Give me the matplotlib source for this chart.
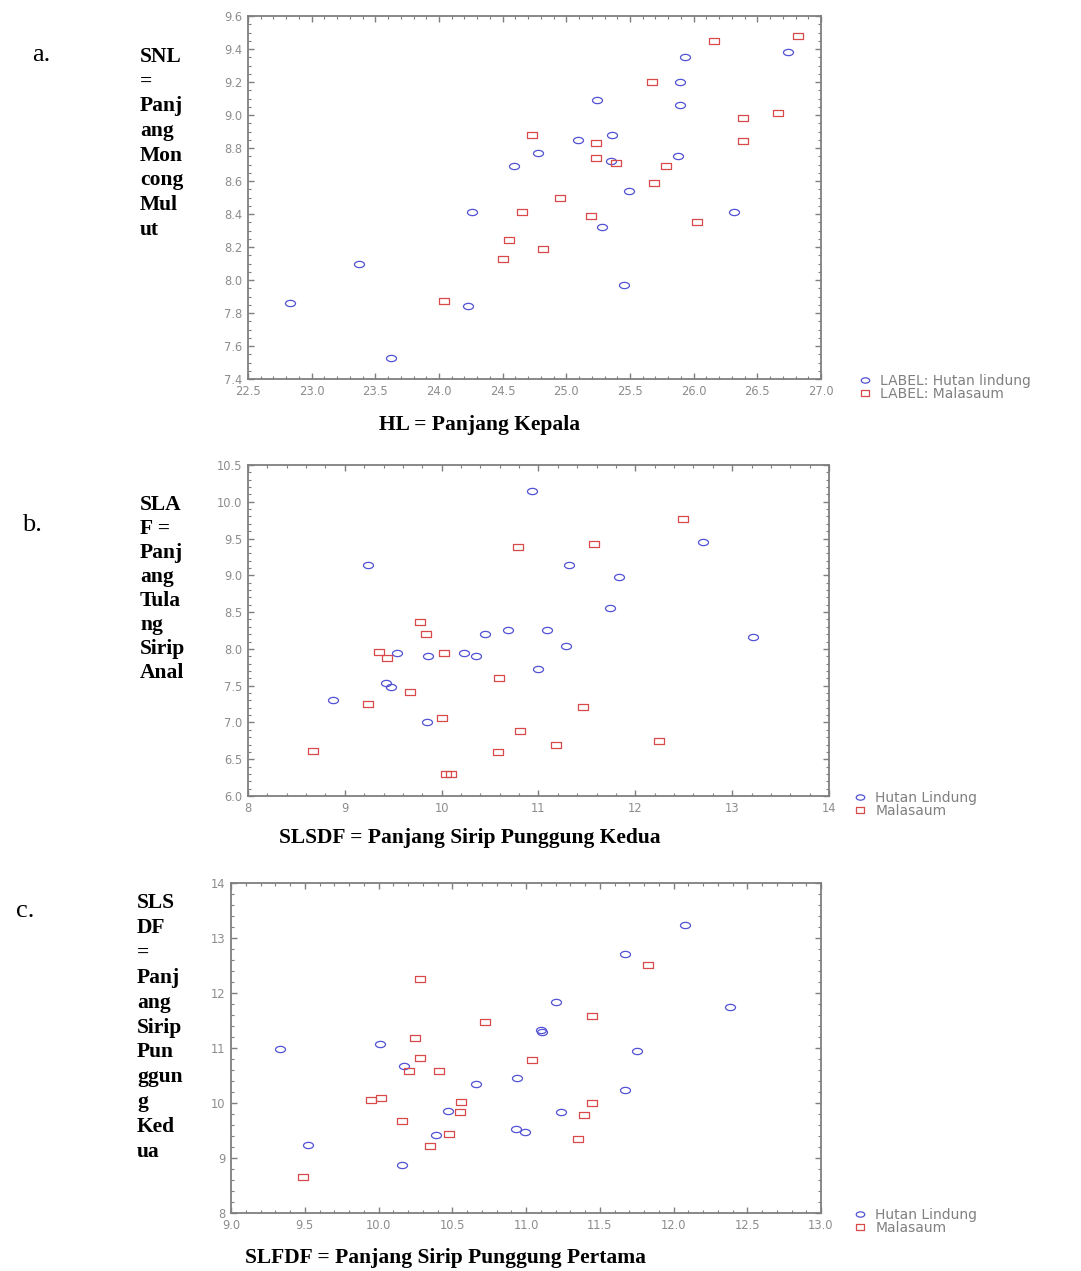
import numpy as np
import matplotlib
matplotlib.use("Agg")
import matplotlib.pyplot as plt
from matplotlib.path import Path
from matplotlib.markers import MarkerStyle
from matplotlib.ticker import MultipleLocator, AutoMinorLocator, FormatStrFormatter

W, H = 1081, 1271

# ---------------- data ----------------
# Panel a: HL (x) vs SNL (y)
a_hl_hutan = [22.83, 23.37, 23.62, 24.23, 24.26, 24.59, 24.78, 25.09, 25.24, 25.28,
              25.35, 25.36, 25.45, 25.49, 25.88, 25.89, 25.89, 25.93, 26.32, 26.74]
a_snl_hutan = [7.86, 8.10, 7.53, 7.84, 8.41, 8.69, 8.77, 8.85, 9.09, 8.32,
               8.72, 8.88, 7.97, 8.54, 8.75, 9.20, 9.06, 9.35, 8.41, 9.38]
a_hl_mal = [24.04, 24.50, 24.55, 24.65, 24.73, 24.82, 24.95, 25.19, 25.23, 25.23,
            25.39, 25.67, 25.69, 25.78, 26.03, 26.16, 26.39, 26.39, 26.66, 26.82]
a_snl_mal = [7.87, 8.13, 8.24, 8.41, 8.88, 8.19, 8.50, 8.39, 8.83, 8.74,
             8.71, 9.20, 8.59, 8.69, 8.35, 9.45, 8.98, 8.84, 9.01, 9.48]

# Panel b: SLSDF (x) vs SLAF (y)
b_slsdf_hutan = [10.93, 9.24, 11.32, 11.83, 11.74, 10.45, 10.69, 11.09, 11.28, 10.99,
                 9.54, 9.86, 10.23, 10.35, 9.43, 9.48, 8.88, 9.85, 12.70, 13.22]
b_slaf_hutan = [10.15, 9.14, 9.14, 8.98, 8.56, 8.20, 8.25, 8.26, 8.04, 7.73,
                7.94, 7.91, 7.95, 7.91, 7.54, 7.48, 7.31, 7.01, 9.45, 8.16]
b_slsdf_mal = [10.79, 11.57, 9.78, 9.84, 9.35, 9.44, 10.02, 10.59, 9.67, 9.24,
               11.46, 10.00, 10.81, 11.18, 10.58, 8.67, 10.04, 10.10, 12.49, 12.24]
b_slaf_mal = [9.38, 9.42, 8.36, 8.20, 7.96, 7.88, 7.95, 7.60, 7.42, 7.25,
              7.21, 7.06, 6.88, 6.70, 6.60, 6.61, 6.30, 6.30, 9.77, 6.75]

# Panel c: SLFDF (x) vs SLSDF (y)
c_slfdf_hutan = [9.33, 9.52, 10.01, 10.17, 10.16, 10.39, 10.47, 10.66, 10.94, 10.93,
                 10.99, 11.10, 11.11, 11.24, 11.20, 11.67, 11.75, 11.67, 12.08, 12.38]
c_slsdf_hutan = [10.99, 9.23, 11.08, 10.68, 8.87, 9.42, 9.85, 10.35, 10.45, 9.53,
                 9.47, 11.32, 11.30, 9.84, 11.83, 12.71, 10.94, 10.23, 13.24, 11.74]
c_slfdf_mal = [10.28, 10.25, 10.28, 10.21, 10.41, 10.72, 11.04, 11.45, 11.45, 11.39,
               11.35, 10.56, 10.55, 10.48, 10.35, 10.16, 9.95, 10.02, 9.49, 11.83]
c_slsdf_mal = [12.25, 11.19, 10.81, 10.58, 10.59, 11.47, 10.79, 11.58, 10.00, 9.78,
               9.35, 10.02, 9.84, 9.44, 9.22, 9.67, 10.05, 10.09, 8.65, 12.51]

legend_a = ["LABEL: Hutan lindung", "LABEL: Malasaum"]
legend_bc = ["Hutan Lindung", "Malasaum"]

ylabel_a = ["SNL", "=", "Panj", "ang", "Mon", "cong", "Mul", "ut"]
ylabel_b = ["SLA", "F =", "Panj", "ang", "Tula", "ng", "Sirip", "Anal"]
ylabel_c = ["SLS", "DF", "=", "Panj", "ang", "Sirip", "Pun", "ggun", "g", "Ked", "ua"]
xlabel_a = "HL = Panjang Kepala"
xlabel_b = "SLSDF = Panjang Sirip Punggung Kedua"
xlabel_c = "SLFDF = Panjang Sirip Punggung Pertama"

# ---------------- style ----------------
BLUE = "#5252d4"
RED = "#d84a4a"
GRAY = "#7f7f7f"
TICKC = "#8c8c8c"

circ = Path.unit_circle()
ell_path = Path(circ.vertices * np.array([1.6, 1.0]), circ.codes)
ELLIPSE = MarkerStyle(ell_path)
rect_verts = np.array([[-1.45, -1.0], [1.45, -1.0], [1.45, 1.0], [-1.45, 1.0], [-1.45, -1.0]])
RECT = MarkerStyle(Path(rect_verts, [Path.MOVETO, Path.LINETO, Path.LINETO, Path.LINETO, Path.CLOSEPOLY]))

fig = plt.figure(figsize=(W / 100, H / 100), dpi=100)
fig.patch.set_facecolor("white")


def px_axes(left, right, top, bottom):
    return fig.add_axes([left / W, 1 - bottom / H, (right - left) / W, (bottom - top) / H])


def ftext(x, y, s, **kw):
    fig.text(x / W, 1 - y / H, s, **kw)


def style_axes(ax, xlim, ylim, xmaj, ymaj, xfmt, yfmt, xminor, yminor):
    ax.set_xlim(*xlim)
    ax.set_ylim(*ylim)
    ax.xaxis.set_major_locator(MultipleLocator(xmaj))
    ax.yaxis.set_major_locator(MultipleLocator(ymaj))
    ax.xaxis.set_minor_locator(AutoMinorLocator(xminor))
    ax.yaxis.set_minor_locator(AutoMinorLocator(yminor))
    ax.xaxis.set_major_formatter(FormatStrFormatter(xfmt))
    ax.yaxis.set_major_formatter(FormatStrFormatter(yfmt))
    for sp in ax.spines.values():
        sp.set_color(GRAY)
        sp.set_linewidth(1.3)
    ax.tick_params(which="both", direction="in", top=True, right=True, color=GRAY)
    ax.tick_params(which="major", length=4, width=1.0, labelsize=8.3, labelcolor=TICKC, pad=4)
    ax.tick_params(which="minor", length=2.5, width=0.8)
    for lab in ax.get_xticklabels() + ax.get_yticklabels():
        lab.set_family("DejaVu Sans")


def draw_panel(ax, xh, yh, xm, ym, labels, leg_xy):
    h1, = ax.plot(xh, yh, linestyle="none", marker=ELLIPSE, markersize=7.2,
                  markerfacecolor="none", markeredgecolor=BLUE, markeredgewidth=0.9)
    h2, = ax.plot(xm, ym, linestyle="none", marker=RECT, markersize=6.8,
                  markerfacecolor="none", markeredgecolor=RED, markeredgewidth=0.9)
    ax.legend([h1, h2], labels, loc="upper left",
              bbox_to_anchor=(leg_xy[0] / W, 1 - leg_xy[1] / H),
              bbox_transform=fig.transFigure, frameon=False, borderpad=0,
              handlelength=1.0, handletextpad=0.6, labelspacing=-0.05,
              prop={"family": "DejaVu Sans", "size": 10}, labelcolor="#808080",
              borderaxespad=0, markerscale=0.85)


serif_b = dict(family="Liberation Serif", weight="bold", fontsize=15.5, color="black")
serif_n = dict(family="Liberation Serif", fontsize=19, color="black")

# ---------------- panel a ----------------
ax_a = px_axes(248, 821, 16, 379)
style_axes(ax_a, (22.5, 27.0), (7.4, 9.6), 0.5, 0.2, "%.1f", "%.1f", 5, 4)
draw_panel(ax_a, a_hl_hutan, a_snl_hutan, a_hl_mal, a_snl_mal, legend_a, (858, 374))
ftext(32, 55, "a.", va="center", ha="left", **serif_n)
for i, s in enumerate(ylabel_a):
    ftext(140, 57 + i * 24.7, s, va="center", ha="left", **serif_b)
ftext(480, 425, xlabel_a, va="center", ha="center", **serif_b)

# ---------------- panel b ----------------
ax_b = px_axes(248, 829, 465, 796)
style_axes(ax_b, (8, 14), (6.0, 10.5), 1, 0.5, "%d", "%.1f", 5, 5)
draw_panel(ax_b, b_slsdf_hutan, b_slaf_hutan, b_slsdf_mal, b_slaf_mal, legend_bc, (853, 791))
ftext(22, 525, "b.", va="center", ha="left", **serif_n)
for i, s in enumerate(ylabel_b):
    ftext(140, 505 + i * 24.0, s, va="center", ha="left", **serif_b)
ftext(470, 838, xlabel_b, va="center", ha="center", **serif_b)

# ---------------- panel c ----------------
ax_c = px_axes(231, 821, 883, 1213)
style_axes(ax_c, (9.0, 13.0), (8, 14), 0.5, 1, "%.1f", "%d", 5, 5)
draw_panel(ax_c, c_slfdf_hutan, c_slsdf_hutan, c_slfdf_mal, c_slsdf_mal, legend_bc, (853, 1208))
ftext(16, 911, "c.", va="center", ha="left", **serif_n)
for i, s in enumerate(ylabel_c):
    ftext(137, 903 + i * 24.9, s, va="center", ha="left", **serif_b)
ftext(445, 1258, xlabel_c, va="center", ha="center", **serif_b)

fig.savefig("out.png", dpi=100, facecolor="white")
